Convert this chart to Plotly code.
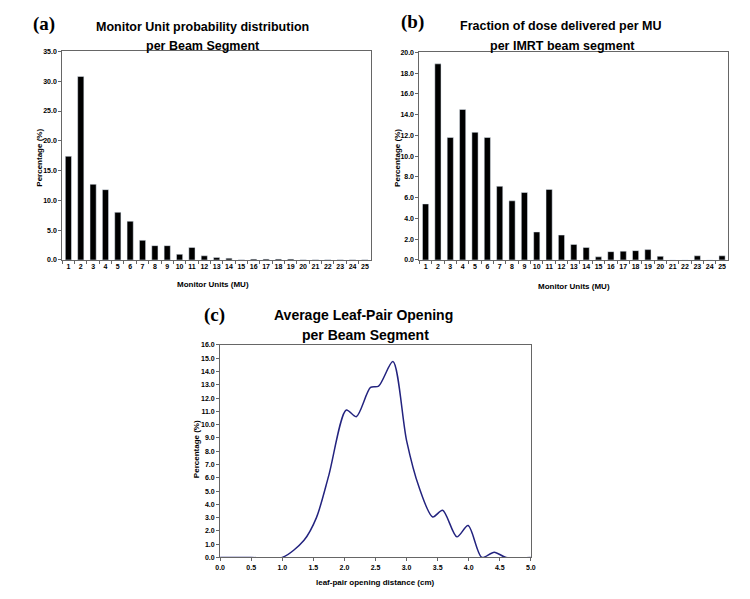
import plotly.graph_objects as go

# ---- data ----
mu_categories = [str(i) for i in range(1, 26)]
mu_prob_pct = [17.4, 30.8, 12.7, 11.8, 8.0, 6.5, 3.3, 2.4, 2.4, 0.95, 2.1, 0.7, 0.4, 0.3,
               0.05, 0.15, 0.15, 0.15, 0.15, 0.05, 0.05, 0.05, 0.05, 0.05, 0.05]
dose_frac_pct = [5.4, 18.9, 11.8, 14.5, 12.3, 11.8, 7.1, 5.7, 6.5, 2.7, 6.8, 2.4, 1.5, 1.2,
                 0.3, 0.8, 0.85, 0.9, 1.0, 0.35, 0.0, 0.0, 0.4, 0.0, 0.4]
leaf_open_cm = [0.0, 0.5, 1.0, 1.35, 1.55, 1.75, 2.03, 2.19, 2.42, 2.55, 2.78, 3.0, 3.2,
                3.42, 3.58, 3.81, 3.99, 4.21, 4.41, 4.6, 5.0]
leaf_open_pct = [0.0, 0.0, 0.0, 1.3, 3.0, 6.2, 11.1, 10.6, 12.8, 12.9, 14.75, 8.8, 5.3,
                 3.05, 3.55, 1.55, 2.4, 0.0, 0.4, 0.0, 0.0]

W, H = 750, 599
def px(x):
    return x / W
def py(y):
    return 1 - y / H

fig = go.Figure()
fig.add_trace(go.Bar(x=mu_categories, y=mu_prob_pct, marker_color="black",
                     xaxis="x", yaxis="y", showlegend=False))
fig.add_trace(go.Bar(x=mu_categories, y=dose_frac_pct, marker_color="black",
                     xaxis="x2", yaxis="y2", showlegend=False))
fig.add_trace(go.Scatter(x=leaf_open_cm, y=leaf_open_pct, mode="lines",
                         line=dict(color="#23237f", width=1.5, shape="spline", smoothing=0.8),
                         xaxis="x3", yaxis="y3", showlegend=False))

tickf = dict(family="Liberation Sans, Arial, sans-serif", size=7, color="black", weight="bold")
axcol = "#666666"
common_y = dict(showgrid=False, zeroline=False, showline=True, linecolor=axcol, mirror=True,
                ticks="outside", ticklen=3, tickcolor=axcol, tickfont=tickf, tickformat=".1f")
common_xc = dict(type="category", showgrid=False, zeroline=False, showline=True, linecolor=axcol,
                 mirror=True, ticks="outside", ticklen=3, tickcolor=axcol, tickson="boundaries",
                 tickfont=tickf, range=[-0.5, 24.5], tickangle=0)

fig.update_layout(
    width=W, height=H, margin=dict(l=0, r=0, t=0, b=0),
    paper_bgcolor="white", plot_bgcolor="white", bargap=0.5,
    xaxis=dict(domain=[px(58), px(371)], anchor="y", **common_xc),
    yaxis=dict(domain=[py(259), py(48)], anchor="x", range=[0, 35], dtick=5, **common_y),
    xaxis2=dict(domain=[px(420), px(733)], anchor="y2", **common_xc),
    yaxis2=dict(domain=[py(259), py(49)], anchor="x2", range=[0, 20], dtick=2, **common_y),
    xaxis3=dict(domain=[px(218), px(533)], anchor="y3", range=[0, 5], dtick=0.5,
                showgrid=False, zeroline=False, showline=True, linecolor=axcol, mirror=True,
                ticks="outside", ticklen=3, tickcolor=axcol, tickfont=tickf, tickformat=".1f",
                tickangle=0),
    yaxis3=dict(domain=[py(560), py(345)], anchor="x3", range=[0, 16], dtick=1, **common_y),
)

titlef = dict(family="Liberation Sans, Arial, sans-serif", size=12.5, color="black", weight="bold")
labf = dict(family="Liberation Serif, Times New Roman, serif", size=19, color="black", weight="bold")
axtf = dict(family="Liberation Sans, Arial, sans-serif", size=8, color="black", weight="bold")

def ann(x, y, text, font, angle=0):
    fig.add_annotation(x=px(x), y=py(y), xref="paper", yref="paper", text=text, showarrow=False,
                       font=font, textangle=angle, xanchor="center", yanchor="middle")

ann(40, 20, "(a)", labf)
ann(200, 23, "Monitor Unit probability distribution", titlef)
ann(201, 42, "per Beam Segment", titlef)
ann(413, 18, "(b)", labf)
ann(563, 22, "Fraction of dose delivered per MU", titlef)
ann(565, 42, "per IMRT beam segment", titlef)
ann(212, 315, "(c)", labf)
ann(363, 315, "Average Leaf-Pair Opening", dict(titlef, size=14))
ann(365, 335, "per Beam Segment", dict(titlef, size=14))

ann(211, 284, "Monitor Units (MU)", axtf)
ann(35, 156, "Percentage (%)", axtf, -90)
ann(577, 286, "Monitor Units (MU)", axtf)
ann(397, 156, "Percentage (%)", axtf, -90)
ann(376, 585, "leaf-pair opening distance (cm)", axtf)
ann(194, 450, "Percentage (%)", axtf, -90)

fig.write_html("out.html", config={"displayModeBar": False},
               post_script="document.body.style.margin='0';")
